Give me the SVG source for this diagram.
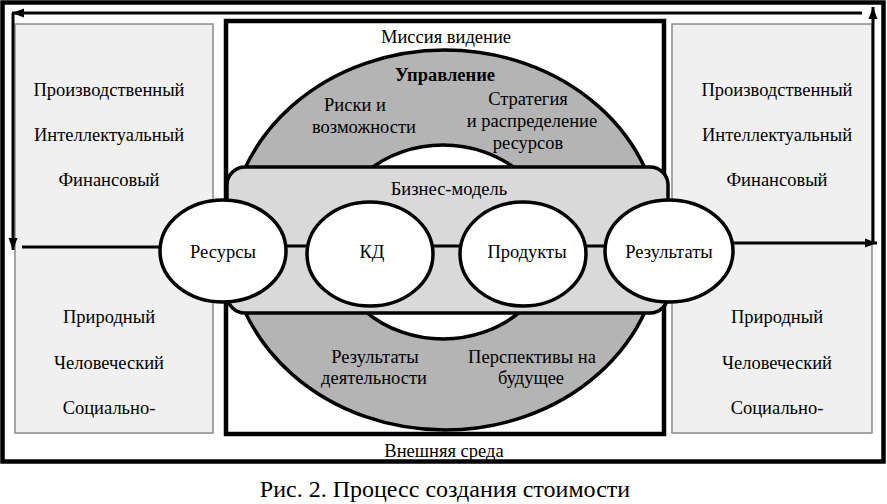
<svg xmlns="http://www.w3.org/2000/svg" width="887" height="504" viewBox="0 0 887 504" font-family="'Liberation Serif', 'Times New Roman', serif">
<style>
text{font-family:'Liberation Serif','Times New Roman',serif;font-size:18.5px;fill:#000;text-anchor:middle}
.b{font-weight:bold}
.cap{font-size:24px}
.gbox{fill:#f0f0f0;stroke:#8a8a8a;stroke-width:1.5}
.node{fill:#fff;stroke:#000;stroke-width:3.5}
.con{fill:none;stroke:#000;stroke-width:3}
</style>
<defs>
<marker id="ah" viewBox="0 0 12 10" refX="12" refY="5" markerWidth="12" markerHeight="10" markerUnits="userSpaceOnUse" orient="auto"><path d="M0,0.5 L12,5 L0,9.5 z" fill="#000"/></marker>
</defs>
<rect x="0" y="0" width="887" height="504" fill="#fff"/>
<g id="outer">
<rect x="2.5" y="2.5" width="881" height="459" fill="#fff" stroke="#000" stroke-width="4.5"/>
<text x="444" y="457">Внешняя среда</text>
</g>
<g id="left-capitals">
<rect class="gbox" x="15" y="24" width="198" height="409"/>
<text x="109" y="96">Производственный</text>
<text x="109" y="141">Интеллектуальный</text>
<text x="109" y="186">Финансовый</text>
<text x="109" y="323">Природный</text>
<text x="109" y="369">Человеческий</text>
<text x="109" y="414">Социально-</text>
</g>
<g id="right-capitals">
<rect class="gbox" x="672" y="24" width="200" height="409"/>
<text x="777" y="96">Производственный</text>
<text x="777" y="141">Интеллектуальный</text>
<text x="777" y="186">Финансовый</text>
<text x="777" y="323">Природный</text>
<text x="777" y="369">Человеческий</text>
<text x="777" y="414">Социально-</text>
</g>
<g id="mission">
<rect x="226" y="21" width="438" height="413" fill="#fff" stroke="#000" stroke-width="4.5"/>
<text x="446" y="43">Миссия видение</text>
</g>
<g id="governance">
<ellipse cx="445" cy="240" rx="216" ry="190" fill="#b4b4b4" stroke="#000" stroke-width="3.5"/>
<ellipse cx="443" cy="242" rx="111" ry="97" fill="#fff" stroke="#000" stroke-width="3.5"/>
<text class="b" x="445" y="81">Управление</text>
<text x="355" y="111">Риски и</text>
<text x="364" y="133">возможности</text>
<text x="528" y="105">Стратегия</text>
<text x="532" y="127">и распределение</text>
<text x="528" y="149">ресурсов</text>
<text x="375" y="363">Результаты</text>
<text x="374" y="384">деятельности</text>
<text x="532" y="363">Перспективы на</text>
<text x="531" y="384">будущее</text>
</g>
<g id="business-model">
<rect x="227" y="167" width="441" height="146" rx="18" ry="18" fill="#d9d9d9" stroke="#000" stroke-width="3.5"/>
<text x="449" y="195">Бизнес-модель</text>
</g>
<g id="connectors">
<path class="con" d="M286,246 L308,246 M432,246 L461,246 M585,246 L606,246"/>
<path class="con" d="M162,247 L22,247"/>
<path class="con" d="M862,13 L12,13" marker-end="url(#ah)"/>
<path class="con" d="M13,13 L13,250" marker-end="url(#ah)"/>
<path class="con" d="M732,243 L877,243" marker-end="url(#ah)"/>
<path class="con" d="M873,243 L873,7" marker-end="url(#ah)"/>
</g>
<g id="resources">
<ellipse class="node" cx="223" cy="251" rx="63" ry="51"/>
<text x="223" y="258">Ресурсы</text>
</g>
<g id="kd">
<ellipse class="node" cx="370" cy="254" rx="63" ry="52"/>
<text x="372" y="258">КД</text>
</g>
<g id="products">
<ellipse class="node" cx="523" cy="254" rx="63" ry="52"/>
<text x="527" y="258">Продукты</text>
</g>
<g id="results">
<ellipse class="node" cx="669" cy="251" rx="64" ry="51"/>
<text x="669" y="258">Результаты</text>
</g>
<text class="cap" x="445" y="497">Рис. 2. Процесс создания стоимости</text>
</svg>
